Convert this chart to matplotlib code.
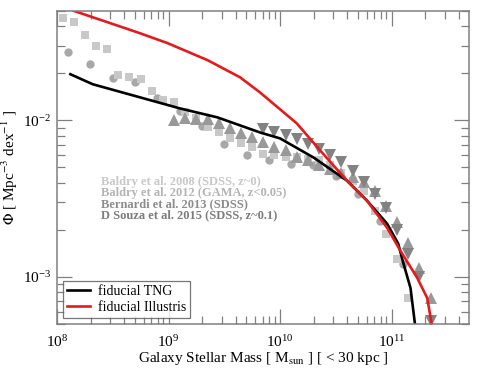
import numpy as np
import matplotlib
matplotlib.use("Agg")
import matplotlib.pyplot as plt
from matplotlib.ticker import LogLocator, NullFormatter

plt.rcParams['font.family'] = ['Liberation Serif', 'DejaVu Serif']
plt.rcParams['mathtext.fontset'] = 'stix'

# log10 stellar mass / log10 phi
tng_logm   = [8.12, 8.32, 8.68, 9.10, 9.44, 9.82, 10.00, 10.30, 10.60, 10.78, 10.96, 11.06, 11.10, 11.17, 11.21, 11.23]
tng_logphi = [-1.705, -1.769, -1.840, -1.923, -1.981, -2.077, -2.115, -2.237, -2.385, -2.513, -2.660, -2.788, -2.897, -3.071, -3.301, -3.45]

ill_logm   = [8.15, 8.45, 8.74, 8.99, 9.35, 9.64, 9.82, 10.15, 10.36, 10.60, 10.78, 10.96, 11.08, 11.23, 11.32, 11.36, 11.38]
ill_logphi = [-1.30, -1.372, -1.442, -1.506, -1.615, -1.724, -1.821, -2.019, -2.192, -2.385, -2.513, -2.686, -2.833, -3.006, -3.135, -3.301, -3.40]

# Baldry et al. 2008 (circles)
b08_logm   = [8.1, 8.3, 8.5, 8.7, 8.9, 9.1, 9.3, 9.5, 9.7, 9.9, 10.1, 10.3, 10.5, 10.7, 10.9, 11.1]
b08_logphi = [-1.564, -1.641, -1.731, -1.756, -1.859, -1.942, -2.038, -2.154, -2.224, -2.256, -2.276, -2.282,
              -2.353, -2.468, -2.641, -2.917]

# Baldry et al. 2012 (squares)
b12_logm   = [8.05, 8.15, 8.25, 8.35, 8.45, 8.55, 8.65, 8.75, 8.85, 8.95, 9.05, 9.15, 9.25, 9.35, 9.45, 9.55,
              9.65, 9.75, 9.85, 9.95, 10.05, 10.15, 10.25, 10.35, 10.45, 10.55, 10.65, 10.75, 10.85, 10.95, 11.05, 11.15]
b12_logphi = [-1.346, -1.372, -1.455, -1.526, -1.545, -1.712, -1.724, -1.737, -1.814, -1.872, -1.885, -1.949,
              -1.987, -2.045, -2.077, -2.115, -2.147, -2.173, -2.212, -2.224, -2.231, -2.237, -2.244, -2.256,
              -2.288, -2.333, -2.385, -2.449, -2.577, -2.724, -2.885, -3.135]

# Bernardi et al. 2013 (up triangles)
ber_logm   = [9.05, 9.15, 9.25, 9.35, 9.45, 9.55, 9.65, 9.75, 9.85, 9.95, 10.05, 10.15, 10.25, 10.35, 10.45,
              10.55, 10.65, 10.75, 10.85, 10.95, 11.05, 11.15, 11.25, 11.35]
ber_logphi = [-2.000, -1.987, -1.994, -1.994, -2.019, -2.051, -2.083, -2.109, -2.141, -2.173, -2.192, -2.231,
              -2.256, -2.282, -2.308, -2.333, -2.359, -2.391, -2.449, -2.545, -2.647, -2.782, -2.942, -3.135]

# D Souza et al. 2015 (down triangles)
dso_logm   = [9.85, 9.95, 10.05, 10.15, 10.25, 10.35, 10.45, 10.55, 10.65, 10.75, 10.85, 10.95, 11.05, 11.15,
              11.25, 11.35]
dso_logphi = [-2.058, -2.071, -2.096, -2.122, -2.154, -2.186, -2.224, -2.263, -2.321, -2.391, -2.468, -2.558,
              -2.699, -2.853, -3.000, -3.282]

obs_labels = ["Baldry et al. 2008 (SDSS, z~0)", "Baldry et al. 2012 (GAMA, z<0.05)",
              "Bernardi et al. 2013 (SDSS)", "D Souza et al. 2015 (SDSS, z~0.1)"]
obs_colors = ["#c8c8c8", "#b4b4b4", "#8c8c8c", "#7c7c7c"]

fig = plt.figure(figsize=(4.8, 3.71), dpi=100)
ax = fig.add_axes([57/480, 1 - 324/371, 412/480, 313/371])

p = lambda a: 10 ** np.array(a)

ax.plot(p(b08_logm), p(b08_logphi), "o", color="#a8a8a8", markersize=6, markeredgewidth=0)
ax.plot(p(b12_logm), p(b12_logphi), "s", color="#c8c8c8", markersize=5.5, markeredgewidth=0)
ax.plot(p(ber_logm), p(ber_logphi), "^", color="#999999", markersize=8, markeredgewidth=0)
ax.plot(p(dso_logm), p(dso_logphi), "v", color="#828282", markersize=8, markeredgewidth=0)

ax.plot(p(tng_logm), p(tng_logphi), color="black", lw=1.9, label="fiducial TNG")
ax.plot(p(ill_logm), p(ill_logphi), color="#e41a1c", lw=1.9, label="fiducial Illustris")

ax.set_xscale("log")
ax.set_yscale("log")
ax.set_xlim(1e8, 4.95e11)
ax.set_ylim(5e-4, 5e-2)

ax.xaxis.set_major_locator(LogLocator(base=10, numticks=10))
ax.xaxis.set_minor_locator(LogLocator(base=10, subs=np.arange(2, 10), numticks=20))
ax.yaxis.set_minor_formatter(NullFormatter())
ax.tick_params(which="both", direction="in", top=True, right=True, colors="#808080", labelcolor="black",
               labelsize=11)
ax.tick_params(which="major", length=11, width=0.9)
ax.tick_params(which="minor", length=5.5, width=0.9)
ax.tick_params(axis="x", which="major", pad=7)
ax.tick_params(axis="y", which="major", pad=4)
for s in ax.spines.values():
    s.set_color("#808080")
    s.set_linewidth(1.1)

ax.set_xlabel(r"Galaxy Stellar Mass [ M$_{\rm sun}$ ] [ < 30 kpc ]", fontsize=11, labelpad=0)
ax.set_ylabel(r"$\Phi$ [ Mpc$^{-3}$ dex$^{-1}$ ]", fontsize=11, labelpad=2)

for i, (txt, c) in enumerate(zip(obs_labels, obs_colors)):
    ax.text((101 - 57)/412, 1 - (171 + 11*i)/313, txt, transform=ax.transAxes, color=c,
            fontsize=9, fontweight="bold", va="center", ha="left")

leg = ax.legend(loc="lower left", fontsize=10, frameon=True, fancybox=False, handlelength=1.6,
                borderaxespad=0.45, borderpad=0.3, labelspacing=0.2, handletextpad=0.6)
leg.get_frame().set_edgecolor("#555555")
leg.get_frame().set_linewidth(0.9)

fig.savefig("out.png", dpi=100)
